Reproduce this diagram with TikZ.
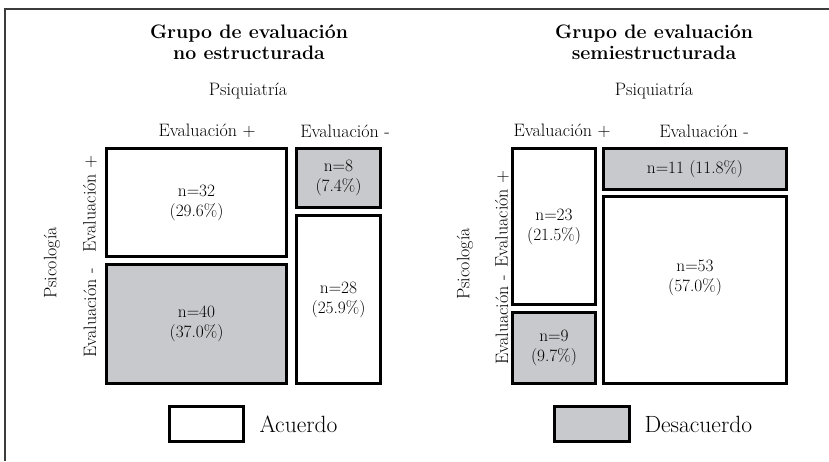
\documentclass[tikz,border=0pt]{standalone}
\usetikzlibrary{positioning}

\definecolor{cellgray}{RGB}{200,201,204}
\definecolor{framegray}{RGB}{60,60,60}

\begin{document}
\begin{tikzpicture}[x=1pt, y=-1pt,
    cell/.style={draw, line width=3pt, inner sep=0pt, align=center, font=\fontsize{17.3}{20}\selectfont},
    agree/.style={cell, fill=white},
    disagree/.style={cell, fill=cellgray},
    header/.style={font=\fontsize{18}{21}\selectfont},
    grouptitle/.style={align=center, font=\fontsize{19.5}{21}\selectfont\bfseries},
    legendtext/.style={anchor=west, font=\fontsize{23.5}{26}\selectfont}]
    \useasboundingbox (0,0) rectangle (829,461);
    % Frame (top and left only)
    \draw[framegray, line width=2pt] (829,8.5) -- (5,8.5) -- (5,461);

    % Non-structured group
    \node[grouptitle] (titleA) at (249,42) {Grupo de evaluación\\no estructurada};
    \node[header] (psiqA) at (248,91) {Psiquiatría};
    \node[header] (colAplus) at (207,131) {Evaluación +};
    \node[header] (colAminus) at (345,131) {Evaluación -};
    \node[header, rotate=90] (psicA) at (52,263) {Psicología};
    \node[header, rotate=90] (rowAplus) at (90,204) {Evaluación +};
    \node[header, rotate=90] (rowAminus) at (90,313) {Evaluación -};

    \node[agree, minimum width=180, minimum height=108] (cellA32) at (196.5,202.5) {n=32\\(29.6\%)};
    \node[disagree, minimum width=84, minimum height=59] (cellA8) at (338.5,178) {n=8\\(7.4\%)};
    \node[agree, minimum width=84, minimum height=168] (cellA28) at (338.5,299.5) {n=28\\(25.9\%)};
    \node[disagree, minimum width=180, minimum height=119] (cellA40) at (196.5,324) {n=40\\(37.0\%)};

    % Semi-structured group
    \node[grouptitle] (titleB) at (654,42) {Grupo de evaluación\\semiestructurada};
    \node[header] (psiqB) at (654,91) {Psiquiatría};
    \node[header] (colBplus) at (562,131) {Evaluación +};
    \node[header] (colBminus) at (704,131) {Evaluación -};
    \node[header, rotate=90] (psicB) at (465,264) {Psicología};
    \node[header, rotate=90] (rowBplus) at (502,219) {Evaluación +};
    \node[header, rotate=90] (rowBminus) at (502,320) {Evaluación -};

    \node[agree, minimum width=83, minimum height=156] (cellB23) at (554,226.5) {n=23\\(21.5\%)};
    \node[disagree, minimum width=83, minimum height=71] (cellB9) at (554,348) {n=9\\(9.7\%)};
    \node[disagree, minimum width=183, minimum height=41] (cellB11) at (695,169) {n=11 (11.8\%)};
    \node[agree, minimum width=183, minimum height=187] (cellB53) at (695,290) {n=53\\(57.0\%)\\[8pt]};

    % Legend
    \node[agree, minimum width=74, minimum height=35] (keyagree) at (206.5,424) {};
    \node[legendtext] (keyagreetext) at (256,424) {Acuerdo};
    \node[disagree, minimum width=75, minimum height=35] (keydisagree) at (592,424) {};
    \node[legendtext] (keydisagreetext) at (641,424) {Desacuerdo};
\end{tikzpicture}
\end{document}
